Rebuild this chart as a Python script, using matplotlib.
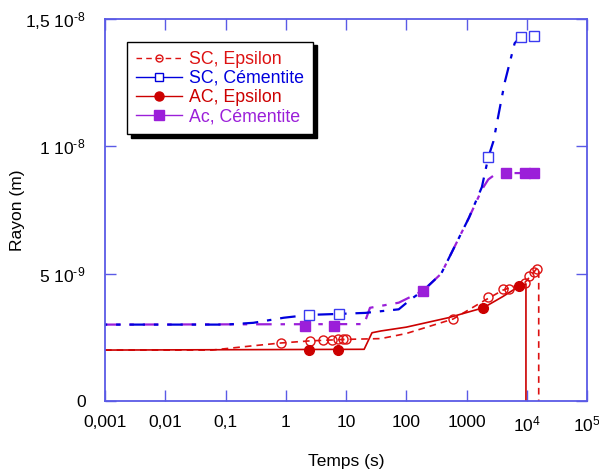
import numpy as np
import matplotlib
matplotlib.use('Agg')
import matplotlib.pyplot as plt
from matplotlib.lines import Line2D

plt.rcParams['font.family'] = ['Liberation Sans', 'DejaVu Sans']
plt.rcParams['mathtext.default'] = 'regular'

# courbes (temps en s, rayon en 1e-9 m)
t_sc_eps = [1e-3, 0.06, 0.29, 0.85, 2.5, 10, 38, 100, 600, 2000, 4000, 9300, 14700, 15800, 15800]
r_sc_eps = [2.0, 2.0, 2.17, 2.28, 2.36, 2.42, 2.45, 2.65, 3.22, 3.95, 4.35, 4.65, 5.2, 5.2, 0.0]
t_sc_cem = [1e-3, 0.1, 0.29, 0.93, 2.4, 7.6, 21, 75, 120, 190, 380, 1100, 1800, 2300, 2800, 4300, 6300, 7900, 13000]
r_sc_cem = [3.0, 3.0, 3.07, 3.27, 3.38, 3.42, 3.46, 3.6, 4.0, 4.33, 5.0, 7.2, 8.4, 9.57, 10.2, 12.5, 14.05, 14.3, 14.35]
t_ac_eps = [1e-3, 20, 27, 38, 100, 500, 1900, 4000, 7400, 9700, 9700]
r_ac_eps = [2.0, 2.03, 2.68, 2.75, 2.9, 3.27, 3.66, 4.1, 4.5, 4.6, 0.0]
t_ac_cem = [1e-3, 20, 25, 75, 190, 380, 1100, 1800, 2300, 3000, 3900, 13000]
r_ac_cem = [3.0, 3.02, 3.66, 3.86, 4.33, 5.0, 7.2, 8.3, 8.7, 8.9, 8.95, 8.95]

# points (marqueurs)
tm_sc_eps = [0.85, 2.5, 4.2, 5.8, 7.3, 8.9, 10, 600, 2300, 4000, 5000, 9300, 11000, 13000, 14700]
rm_sc_eps = [2.28, 2.36, 2.4, 2.41, 2.42, 2.42, 2.42, 3.22, 4.07, 4.4, 4.4, 4.65, 4.9, 5.05, 5.2]
tm_sc_cem = [2.4, 7.6, 2300, 7900, 13000]
rm_sc_cem = [3.38, 3.42, 9.57, 14.3, 14.35]
tm_ac_eps = [2.4, 7.4, 1900, 7400]
rm_ac_eps = [2.0, 2.0, 3.66, 4.5]
tm_ac_cem = [2.1, 6.3, 190, 4600, 9300, 13000]
rm_ac_cem = [2.95, 2.95, 4.33, 8.95, 8.95, 8.95]

rouge = '#dd1111'
rouge2 = '#cc0000'
bleu = '#0000dd'
violet = '#9b1fd9'
axe = '#5a5ae6'

fig = plt.figure(figsize=(5.99, 4.74), dpi=100)
ax = fig.add_axes([105/599, 1-401/474, 482/599, 382/474])

ax.plot(t_ac_cem, np.array(r_ac_cem)*1e-9, color=violet, lw=1.6, ls=(0, (7, 4, 2, 4)))
ax.plot(t_sc_cem, np.array(r_sc_cem)*1e-9, color=bleu, lw=1.6, ls=(6, (7, 4, 2, 4)))
ax.plot(t_sc_eps, np.array(r_sc_eps)*1e-9, color=rouge, lw=1.2, ls=(0, (4, 3)))
ax.plot(t_ac_eps, np.array(r_ac_eps)*1e-9, color=rouge2, lw=1.2)

ax.plot(tm_ac_cem, np.array(rm_ac_cem)*1e-9, 's', color=violet, ms=6.5)
ax.plot(tm_sc_cem, np.array(rm_sc_cem)*1e-9, 's', mfc='white', mec='#3a3af0', ms=6.5, mew=1)
ax.plot(tm_sc_eps, np.array(rm_sc_eps)*1e-9, 'o', mfc='none', mec=rouge, ms=6.5, mew=1)
ax.plot(tm_ac_eps, np.array(rm_ac_eps)*1e-9, 'o', color=rouge2, ms=7)

ax.set_xscale('log')
ax.set_xlim(1e-3, 1e5)
ax.set_ylim(0, 1.5e-8)
xt = [1e-3, 1e-2, 1e-1, 1, 10, 100, 1000, 1e4, 1e5]
xl = ['0,001', '0,01', '0,1', '1', '10', '100', '1000', r'10$^4$', r'10$^5$']
ax.set_xticks(xt)
ax.set_xticklabels(xl)
ax.xaxis.set_minor_locator(matplotlib.ticker.NullLocator())
yt = [0, 5e-9, 1e-8, 1.5e-8]
yl = ['0', '5 10$^{\u20109}$', '1 10$^{\u20108}$', '1,5 10$^{\u20108}$']
ax.set_yticks(yt)
ax.set_yticklabels(yl)
ax.tick_params(which='both', direction='in', length=8, width=1, color=axe,
               top=True, right=True, labelsize=12.5)
ax.tick_params(axis='y', pad=14)
ax.tick_params(axis='x', pad=10)
for s in ax.spines.values():
    s.set_color(axe)
    s.set_linewidth(1.3)

ax.set_xlabel('Temps (s)', fontsize=12.5, labelpad=14)
ax.set_ylabel('Rayon (m)', fontsize=12.5)
ax.yaxis.set_label_coords(-0.165, 0.5)

handles = [
    Line2D([], [], color=rouge, lw=1, ls=(0, (4, 3)), marker='o', mfc='none', mec=rouge, ms=5),
    Line2D([], [], color=bleu, lw=1, marker='s', mfc='white', mec=bleu, ms=6),
    Line2D([], [], color=rouge2, lw=1, marker='o', ms=6.5),
    Line2D([], [], color=violet, lw=1, marker='s', ms=6.5),
]
labels = ['SC, Epsilon', 'SC, Cémentite', 'AC, Epsilon', 'Ac, Cémentite']
leg = ax.legend(handles, labels, loc='upper left', bbox_to_anchor=(0.046, 0.94),
                borderaxespad=0, fontsize=12.8, frameon=True, fancybox=False,
                edgecolor='black', labelspacing=0.12, handlelength=2.6,
                handletextpad=0.4, borderpad=0.5,
                shadow={'color': 'black', 'alpha': 1, 'ox': 2.5, 'oy': -2.5},
                labelcolor=[rouge, bleu, rouge2, violet])
leg.get_frame().set_linewidth(1.0)

fig.savefig('out.png', dpi=100)
